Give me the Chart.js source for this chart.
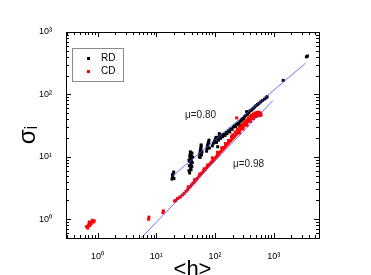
<!DOCTYPE html>
<html>
<head>
<meta charset="utf-8">
<script src="https://cdn.jsdelivr.net/npm/chart.js@4/dist/chart.umd.min.js"></script>
<style>
  html, body { margin: 0; padding: 0; background: #fff; }
  #wrap { width: 371px; height: 275px; }
</style>
</head>
<body>
<div id="wrap"><canvas id="c"></canvas></div>
<script>
// data: <h> and sigma_i
const rdH = [18.5,19,19.3,19.8,20,18.8,
  36,36.5,37,37.5,38,38.5,39,39.5,40,40.5,41,37,38,39,36,41.5,37.2,38.8,40.2,
  54,55,56,57,58,59,60,58,56,57.5,
  72,73,74,76,78,79,80,75,77,
  90,94,98,102,106,110,111,115,120,125,130,135,140,148,155,160,104,118,
  170,178,185,195,205,215,225,235,245,255,265,280,290,305,320,335,345,360,375,390,410,430,450,475,500,530,560,600,640,690,740,770,
  1450,3600,3750];
const rdSigma = [4.4,4.8,5.3,5.7,4.5,5.1,
  6.0,7.2,8.4,9.6,10.8,6.6,7.8,9.0,10.2,11.5,8.1,5.5,12,6.2,8.8,9.8,10.4,11,7,
  10,11.2,12.4,13.6,14.8,10.8,12,15.5,9.8,13,
  12.3,13.5,14.7,16,17.2,18.5,13.8,15.3,16.8,
  15,16.5,18,19.2,17,20.5,14.5,18.5,21.5,19.8,22.5,21,23,22,24.5,23.5,20.5,23.5,
  26,25,28,27.5,30,31.5,30.5,33,34.5,33.5,36.5,38,40,41,44,46,53,48,51,54,55.5,58,60,63,66,69,72,76,80,84,88,92,
  168,400,412];

const cdH = [0.65,0.68,0.7,0.72,0.74,0.76,0.78,0.8,0.82,0.85,0.88,0.72,
  7.4,7.5,13,13.2,
  20.5,21.5,23,24.5,26,28,30,32,34,36,38,40,42,44,46,48,50,53,56,59,62,65,68,72,76,80,84,88,92,96,
  100,105,110,115,120,126,132,138,145,152,160,168,176,185,195,205,215,225,235,245,255,265,278,290,
  305,320,335,350,365,380,400,420,440,460,485,510,540,570,600,
  200,220,240,260,280,300,320,345,370,395,420,450,480,520,560,610,
  90,110,130,150,170,234,190,260,300,350,400,450,500,550,600,
  35,45,55,65,75];
const cdSigma = [0.76,0.72,0.8,0.84,0.79,0.88,0.85,0.92,0.96,0.9,0.94,0.9,
  1.0,1.08,1.27,1.36,
  1.95,2.0,2.15,2.2,2.3,2.45,2.6,2.8,2.95,3.15,3.35,3.55,3.75,3.9,4.1,4.3,4.5,4.8,5.1,5.4,5.7,6.0,6.3,6.7,7.1,7.5,7.9,8.3,8.7,9.1,
  9.5,10,10.5,11,11.6,12.2,12.8,13.4,14.1,14.8,15.6,16.4,17.3,18.2,19.2,20.2,21.2,22.3,23.4,24.5,25.6,26.7,28,29.3,
  30.8,32.3,33.8,35.3,36.8,38.2,40,41.8,43.5,45,46.5,47.5,48.5,49.5,50,
  22.5,25,27.5,30,32,34,36.5,39,41.5,44,46.5,48.5,50.5,51.5,52,47,
  9.6,11.8,14,16.3,18.3,42,21,24,28,32,37,41,44,45.5,46.5,
  3.3,4.3,5.3,6.4,7.4];

// fitted power laws (end points)
const fitRDH = [19, 3480];
const fitRDSigma = [4.94, 316];
const fitCDH = [5.55, 970];
const fitCDSigma = [0.5, 80];

const xTicks = [1, 10, 100, 1000];
const yTicks = [1, 10, 100, 1000];
const tickLabels = {1: '10\u2070', 10: '10\u00b9', 100: '10\u00b2', 1000: '10\u00b3'};

const seriesNames = ['RD', 'CD'];
const fitLabels = ['\u03bc=0.80', '\u03bc=0.98'];

function pts(xs, ys) { return xs.map((x, i) => ({x: x, y: ys[i]})); }

const frame = {
  id: 'frame',
  afterDraw(chart) {
    const ctx = chart.ctx, a = chart.chartArea;
    const xs = chart.scales.x, ys = chart.scales.y;
    ctx.save();
    ctx.strokeStyle = '#000';
    ctx.lineWidth = 1;
    ctx.strokeRect(a.left + 0.5, a.top + 0.5, a.right - a.left, a.bottom - a.top);
    ctx.beginPath();
    for (let k = -1; k <= 4; k++) {
      for (let m = 1; m <= 9; m++) {
        const v = m * Math.pow(10, k);
        const len = m === 1 ? 5 : 3;
        if (v >= xs.min && v <= xs.max) {
          const p = Math.round(xs.getPixelForValue(v)) + 0.5;
          ctx.moveTo(p, a.bottom); ctx.lineTo(p, a.bottom - len);
          ctx.moveTo(p, a.top); ctx.lineTo(p, a.top + len);
        }
        if (v >= ys.min && v <= ys.max) {
          const p = Math.round(ys.getPixelForValue(v)) + 0.5;
          ctx.moveTo(a.left, p); ctx.lineTo(a.left + len, p);
          ctx.moveTo(a.right, p); ctx.lineTo(a.right - len, p);
        }
      }
    }
    ctx.stroke();

    // legend
    ctx.strokeStyle = '#8a8a8a';
    ctx.strokeRect(72.5, 48.5, 51, 33);
    ctx.font = '10px "Liberation Sans", Arial, sans-serif';
    ctx.textBaseline = 'middle';
    ctx.fillStyle = '#000';
    ctx.fillRect(87, 57, 3, 3);
    ctx.fillText(seriesNames[0], 101, 58.5);
    ctx.fillStyle = '#ff0000';
    ctx.fillRect(87, 70, 3, 3);
    ctx.fillStyle = '#000';
    ctx.fillText(seriesNames[1], 101, 71.5);

    // fit labels
    ctx.fillStyle = '#222';
    ctx.fillText(fitLabels[0], 185, 115.5);
    ctx.fillText(fitLabels[1], 233, 164.5);
    ctx.restore();
  }
};

new Chart(document.getElementById('c'), {
  type: 'scatter',
  data: {
    datasets: [
      { label: 'RD', data: pts(rdH, rdSigma), backgroundColor: '#000', borderWidth: 0,
        pointStyle: 'rect', pointRadius: 2.1, order: 2 },
      { label: 'CD', data: pts(cdH, cdSigma), backgroundColor: '#ff0000', borderWidth: 0,
        pointStyle: 'rect', pointRadius: 2.1, order: 3 },
      { type: 'line', label: 'fitRD', data: pts(fitRDH, fitRDSigma), borderColor: '#4a4aff',
        borderWidth: 0.8, pointRadius: 0, fill: false, order: 1 },
      { type: 'line', label: 'fitCD', data: pts(fitCDH, fitCDSigma), borderColor: '#4a4aff',
        borderWidth: 0.8, pointRadius: 0, fill: false, order: 1 }
    ]
  },
  options: {
    responsive: true,
    maintainAspectRatio: false,
    animation: false,
    layout: { padding: { top: 32, right: 52, left: 0, bottom: 0 } },
    plugins: { legend: { display: false }, tooltip: { enabled: false } },
    scales: {
      x: {
        type: 'logarithmic', min: 0.29, max: 5900,
        afterBuildTicks: s => { s.ticks = xTicks.map(v => ({value: v})); },
        afterFit: s => { s.height = 37; },
        grid: { display: false },
        border: { display: false },
        ticks: { color: '#000', padding: 5, maxRotation: 0, autoSkip: false,
          font: { size: 9, family: '"Liberation Sans", Arial, sans-serif' },
          callback: v => tickLabels[v] || '' },
        title: { display: true, text: '<h>', color: '#000',
          font: { size: 22, family: '"Liberation Sans", Arial, sans-serif', lineHeight: 0.5 },
          padding: 0 }
      },
      y: {
        type: 'logarithmic', min: 0.5, max: 1000,
        afterBuildTicks: s => { s.ticks = yTicks.map(v => ({value: v})); },
        afterFit: s => { s.width = 66; },
        grid: { display: false },
        border: { display: false },
        ticks: { color: '#000', padding: 6, autoSkip: false,
          font: { size: 9, family: '"Liberation Sans", Arial, sans-serif' },
          callback: v => tickLabels[v] || '' },
        title: { display: true, text: '\u03c3\u1d62', color: '#000',
          font: { size: 24, family: '"Liberation Sans", Arial, sans-serif', lineHeight: 1 },
          padding: { top: 16, bottom: 0 } }
      }
    }
  },
  plugins: [frame]
});
</script>
</body>
</html>
